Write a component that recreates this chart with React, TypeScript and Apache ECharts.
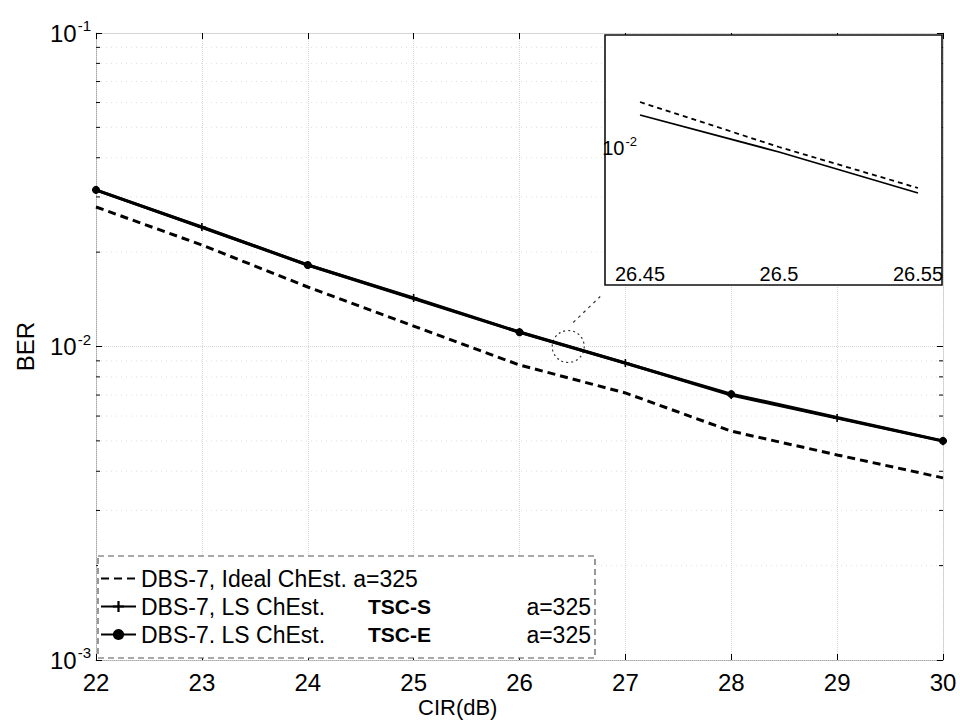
import React, { useEffect, useRef } from "react";
import * as echarts from "echarts";

// ---- data ----
const cirValues = [22, 23, 24, 25, 26, 27, 28, 29, 30];
const idealBer = [0.02786, 0.02108, 0.01548, 0.01162, 0.00873, 0.00711, 0.00537, 0.00451, 0.00381];
const tscSBer = [0.03155, 0.02405, 0.0182, 0.01428, 0.01112, 0.00886, 0.007, 0.00591, 0.00499];
const tscECir = [22, 24, 26, 28, 30];
const tscEBer = [0.0316, 0.0182, 0.0111, 0.00705, 0.005];

const insetCir = [26.45, 26.5, 26.55];
const insetDashed = [0.010182, 0.010002, 0.009838];
const insetSolid = [0.01013, 0.009982, 0.009818];

const minorBer = [
  0.002, 0.003, 0.004, 0.005, 0.006, 0.007, 0.008, 0.009,
  0.02, 0.03, 0.04, 0.05, 0.06, 0.07, 0.08, 0.09,
];
const zoomMark = [[26.46, 0.01]];

const seriesNames = [
  "DBS-7, Ideal ChEst. a=325",
  "DBS-7, LS ChEst. TSC-S a=325",
  "DBS-7. LS ChEst. TSC-E a=325",
];

const FONT = "'Liberation Sans', Arial, Helvetica, sans-serif";

export default function App() {
  const ref = useRef<HTMLDivElement>(null);

  useEffect(() => {
    if (!ref.current) return;
    const chart = echarts.init(ref.current, null, { renderer: "svg" });

    const supRich = (big: number, small: number, raise: number) => ({
      b: { fontSize: big, fontFamily: FONT, color: "#000", verticalAlign: "bottom", lineHeight: big },
      s: {
        fontSize: small,
        fontFamily: FONT,
        color: "#000",
        verticalAlign: "bottom",
        lineHeight: small,
        padding: [0, 0, raise, 1],
      },
    });

    const option: any = {
      animation: false,
      backgroundColor: "#fff",
      textStyle: { fontFamily: FONT },
      grid: [
        { left: 96, right: 17, top: 33, bottom: 68 },
        { left: 640, top: 35, width: 278, height: 250 },
      ],
      xAxis: [
        {
          type: "value",
          gridIndex: 0,
          min: 22,
          max: 30,
          interval: 1,
          axisLine: { show: true, lineStyle: { color: "#aaa", type: "dotted" } },
          axisTick: { show: true, inside: true, length: 6, lineStyle: { color: "#000" } },
          axisLabel: { fontSize: 24, color: "#000", fontFamily: FONT, margin: 10 },
          splitLine: { show: true, lineStyle: { color: "#d6d6d6", type: "dotted", width: 1 } },
        },
        {
          type: "value",
          gridIndex: 0,
          position: "top",
          min: 22,
          max: 30,
          interval: 1,
          axisLine: { show: true, lineStyle: { color: "#ccc", type: "dotted" } },
          axisTick: { show: true, inside: true, length: 6, lineStyle: { color: "#000" } },
          axisLabel: { show: false },
          splitLine: { show: false },
        },
        {
          type: "value",
          gridIndex: 1,
          min: 26.45,
          max: 26.55,
          interval: 0.05,
          z: 4,
          axisLine: { show: false },
          axisTick: { show: false },
          axisLabel: { inside: true, margin: 1, fontSize: 20, color: "#000", fontFamily: FONT },
          splitLine: { show: false },
        },
      ],
      yAxis: [
        {
          type: "log",
          gridIndex: 0,
          min: 0.001,
          max: 0.1,
          logBase: 10,
          name: "BER",
          nameLocation: "middle",
          nameGap: 59,
          nameRotate: 90,
          nameTextStyle: { fontSize: 24, color: "#000", fontFamily: FONT },
          axisLine: { show: true, lineStyle: { color: "#aaa", type: "dotted" } },
          axisTick: { show: true, inside: true, length: 6, lineStyle: { color: "#000" } },
          axisLabel: {
            margin: 5,
            formatter: (v: number) => `{b|10}{s|${Math.round(Math.log10(v))}}`,
            rich: supRich(24, 15, 12),
          },
          splitLine: { show: true, lineStyle: { color: "#d6d6d6", type: "dotted", width: 1 } },
        },
        {
          type: "log",
          gridIndex: 0,
          position: "right",
          min: 0.001,
          max: 0.1,
          logBase: 10,
          axisLine: { show: true, lineStyle: { color: "#ccc", type: "dotted" } },
          axisTick: { show: true, inside: true, length: 6, lineStyle: { color: "#000" } },
          axisLabel: { show: false },
          splitLine: { show: false },
        },
        {
          type: "value",
          gridIndex: 1,
          min: 0.00945,
          max: 0.01045,
          interval: 0.00005,
          z: 4,
          axisLine: { show: false },
          axisTick: { show: false },
          splitLine: { show: false },
          axisLabel: {
            margin: 3,
            formatter: (v: number) => (Math.abs(v - 0.01) < 1e-7 ? "{b|10}{s|-2}" : ""),
            rich: supRich(20, 13, 10),
          },
        },
      ],
      legend: {
        orient: "vertical",
        left: 95,
        top: 562,
        itemWidth: 35,
        itemHeight: 14,
        itemGap: 5,
        z: 4,
        data: [
          { name: seriesNames[0], itemStyle: { opacity: 0 } },
          { name: seriesNames[1] },
          { name: seriesNames[2] },
        ],
        lineStyle: { width: 2 },
        formatter: (name: string) => {
          if (name === seriesNames[0]) return `{n|${name}}`;
          const tsc = name.includes("TSC-S") ? "TSC-S" : "TSC-E";
          const head = name.split(" TSC")[0];
          return `{n|${head}}{b|${tsc}}{a|a=325}`;
        },
        textStyle: {
          fontSize: 23,
          color: "#000",
          fontFamily: FONT,
          rich: {
            n: { fontSize: 23, fontFamily: FONT, color: "#000", width: 227 },
            b: { fontSize: 21, fontFamily: FONT, color: "#000", fontWeight: "bold", width: 156 },
            a: { fontSize: 23, fontFamily: FONT, color: "#000", width: 67, align: "right" },
          },
        },
      },
      graphic: [
        {
          type: "rect",
          z: 3,
          shape: { x: 98, y: 556, width: 497, height: 102 },
          style: { fill: "#fff", stroke: "#555", lineWidth: 1.2, lineDash: [6, 4] },
        },
        {
          type: "rect",
          z: 3,
          shape: { x: 605, y: 35, width: 337, height: 250 },
          style: { fill: "#fff", stroke: "#111", lineWidth: 1.6 },
        },
        {
          type: "text",
          left: 418,
          top: 696,
          z: 5,
          style: { text: "CIR(dB)", fontSize: 22, fontFamily: FONT, fill: "#000" },
        },
      ],
      series: [
        {
          type: "custom",
          name: "minor",
          xAxisIndex: 0,
          yAxisIndex: 0,
          z: 1,
          silent: true,
          data: minorBer.map((v) => [22, v]),
          encode: { x: 0, y: 1 },
          renderItem: (params: any, api: any) => {
            const v = api.value(1);
            const l = api.coord([22, v]);
            const r = api.coord([30, v]);
            return {
              type: "group",
              children: [
                {
                  type: "line",
                  shape: { x1: l[0], y1: l[1], x2: r[0], y2: r[1] },
                  style: { stroke: "#e0e0e0", lineWidth: 1, lineDash: [1, 4] },
                },
                {
                  type: "line",
                  shape: { x1: l[0], y1: l[1], x2: l[0] + 4, y2: l[1] },
                  style: { stroke: "#000", lineWidth: 1 },
                },
                {
                  type: "line",
                  shape: { x1: r[0] - 4, y1: r[1], x2: r[0], y2: r[1] },
                  style: { stroke: "#000", lineWidth: 1 },
                },
              ],
            };
          },
        },
        {
          type: "line",
          name: seriesNames[0],
          xAxisIndex: 0,
          yAxisIndex: 0,
          data: cirValues.map((x, i) => [x, idealBer[i]]),
          symbol: "none",
          lineStyle: { color: "#000", width: 3, type: [8, 5] },
          itemStyle: { color: "#000" },
        },
        {
          type: "line",
          name: seriesNames[1],
          xAxisIndex: 0,
          yAxisIndex: 0,
          data: cirValues.map((x, i) => [x, tscSBer[i]]),
          symbol: "path://M4,0H6V4H10V6H6V10H4V6H0V4H4Z",
          symbolSize: 8,
          lineStyle: { color: "#000", width: 3 },
          itemStyle: { color: "#000" },
        },
        {
          type: "line",
          name: seriesNames[2],
          xAxisIndex: 0,
          yAxisIndex: 0,
          data: tscECir.map((x, i) => [x, tscEBer[i]]),
          symbol: "circle",
          symbolSize: 8,
          lineStyle: { color: "#000", width: 3 },
          itemStyle: { color: "#000" },
        },
        {
          type: "custom",
          name: "zoom",
          xAxisIndex: 0,
          yAxisIndex: 0,
          z: 3,
          silent: true,
          data: zoomMark,
          encode: { x: 0, y: 1 },
          renderItem: (params: any, api: any) => {
            const p = api.coord([api.value(0), api.value(1)]);
            return {
              type: "group",
              children: [
                {
                  type: "circle",
                  shape: { cx: p[0], cy: p[1], r: 16 },
                  style: { fill: "none", stroke: "#333", lineWidth: 1.2, lineDash: [2, 3] },
                },
                {
                  type: "line",
                  shape: { x1: p[0] + 5, y1: p[1] - 24, x2: p[0] + 32, y2: p[1] - 50 },
                  style: { stroke: "#333", lineWidth: 1.2, lineDash: [3, 4] },
                },
              ],
            };
          },
        },
        {
          type: "line",
          name: "inset dashed",
          xAxisIndex: 2,
          yAxisIndex: 2,
          z: 5,
          data: insetCir.map((x, i) => [x, insetDashed[i]]),
          symbol: "none",
          lineStyle: { color: "#000", width: 1.8, type: [5, 4] },
        },
        {
          type: "line",
          name: "inset solid",
          xAxisIndex: 2,
          yAxisIndex: 2,
          z: 5,
          data: insetCir.map((x, i) => [x, insetSolid[i]]),
          symbol: "none",
          lineStyle: { color: "#000", width: 1.8 },
        },
      ],
    };

    chart.setOption(option);
    return () => chart.dispose();
  }, []);

  return <div ref={ref} style={{ width: 960, height: 728, position: "absolute", left: 0, top: 0 }} />;
}
